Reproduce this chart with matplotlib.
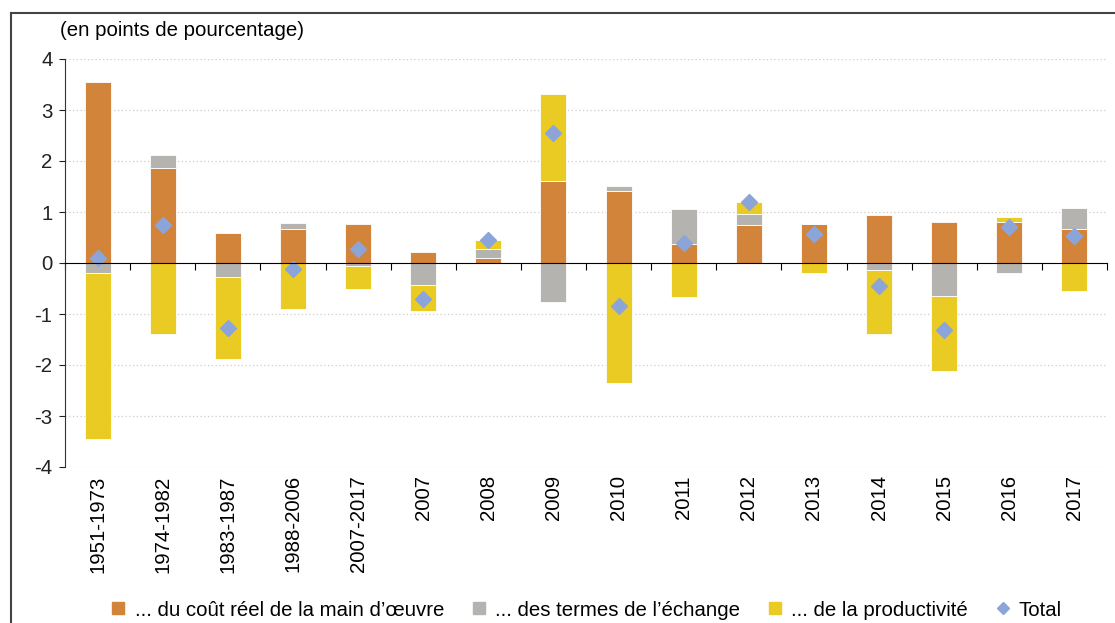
import numpy as np
import matplotlib
matplotlib.use("Agg")
import matplotlib.pyplot as plt
from matplotlib.lines import Line2D

plt.rcParams['font.family'] = ['Liberation Sans', 'DejaVu Sans']
plt.rcParams['axes.unicode_minus'] = False

categories = ["1951-1973", "1974-1982", "1983-1987", "1988-2006", "2007-2017",
              "2007", "2008", "2009", "2010", "2011", "2012", "2013",
              "2014", "2015", "2016", "2017"]
cout_reel = [3.55, 1.87, 0.59, 0.67, 0.77, 0.22, 0.10, 1.61, 1.42, 0.38, 0.75, 0.76,
             0.94, 0.80, 0.81, 0.67]
termes_echange = [-0.20, 0.25, -0.28, 0.12, -0.05, -0.44, 0.17, -0.77, 0.09, 0.68, 0.22, 0.0,
                  -0.13, -0.65, -0.20, 0.40]
productivite = [-3.26, -1.39, -1.60, -0.91, -0.45, -0.50, 0.18, 1.70, -2.36, -0.67, 0.22, -0.20,
                -1.27, -1.46, 0.10, -0.54]
total = [0.10, 0.74, -1.28, -0.12, 0.28, -0.71, 0.45, 2.55, -0.84, 0.40, 1.20, 0.56,
         -0.46, -1.32, 0.70, 0.53]

series = [
    ("... du coût réel de la main d\u2019œuvre", cout_reel, "#D2843A"),
    ("... des termes de l\u2019échange", termes_echange, "#B4B3B0"),
    ("... de la productivité", productivite, "#EACB23"),
]

fs = 14.7

fig = plt.figure(figsize=(11.15, 6.23), dpi=100)
ax = fig.add_axes([65 / 1115, 1 - 467 / 623, (1107 - 65) / 1115, (467 - 59) / 623])

x = np.arange(len(categories))
pos_base = np.zeros(len(categories))
neg_base = np.zeros(len(categories))
handles = []
for label, vals, col in series:
    v = np.array(vals)
    bottom = np.where(v >= 0, pos_base, neg_base)
    ax.bar(x, v, 0.4, bottom=bottom, color=col, edgecolor="white", linewidth=0.6, zorder=2)
    pos_base = pos_base + np.where(v > 0, v, 0)
    neg_base = neg_base + np.where(v < 0, v, 0)
    handles.append(Line2D([], [], marker="s", linestyle="none", color=col, markersize=8.5))

ax.plot(x, total, linestyle="none", marker="D", color="#8CA5D8", markersize=8.5, zorder=3)
handles.append(Line2D([], [], marker="D", linestyle="none", color="#8CA5D8", markersize=6.5))

ax.set_xlim(-0.5, len(categories) - 0.5)
ax.set_ylim(-4, 4)
ax.set_yticks(range(-4, 5))
for yv in range(-4, 5):
    if yv != 0:
        ax.axhline(yv, color="#cccccc", linestyle=(0, (1, 2)), linewidth=0.9, zorder=0)

for s in ["top", "right"]:
    ax.spines[s].set_visible(False)
ax.spines["bottom"].set_position(("data", 0))
ax.spines["bottom"].set_zorder(4)
ax.spines["left"].set_color("#333333")
ax.tick_params(axis="y", direction="out", length=4, labelsize=fs, colors="#222222", pad=5)
ax.set_xticks(np.arange(-0.5, len(categories), 1.0))
ax.tick_params(axis="x", direction="out", length=5, labelbottom=False)

sec = ax.secondary_xaxis(0)
sec.set_xticks(x)
sec.set_xticklabels(categories, rotation=90, va="top", fontsize=fs)
sec.tick_params(length=0, pad=6)
sec.spines["bottom"].set_visible(False)

fig.text(60 / 1115, 1 - 30 / 623, "(en points de pourcentage)", fontsize=fs, va="center", ha="left")

fig.legend(handles, [s[0] for s in series] + ["Total"], loc="center",
           bbox_to_anchor=(585 / 1115, 1 - 610 / 623), ncol=4, frameon=False,
           fontsize=fs, handletextpad=0.3, columnspacing=1.2, handlelength=1.0)

# cadre autour du graphique
fig.add_artist(Line2D([11 / 1115, 1], [1 - 13 / 623, 1 - 13 / 623], color="#444444", linewidth=1.5))
fig.add_artist(Line2D([11 / 1115, 11 / 1115], [0, 1 - 13 / 623], color="#444444", linewidth=1.5))

fig.savefig("out.png", dpi=100)
